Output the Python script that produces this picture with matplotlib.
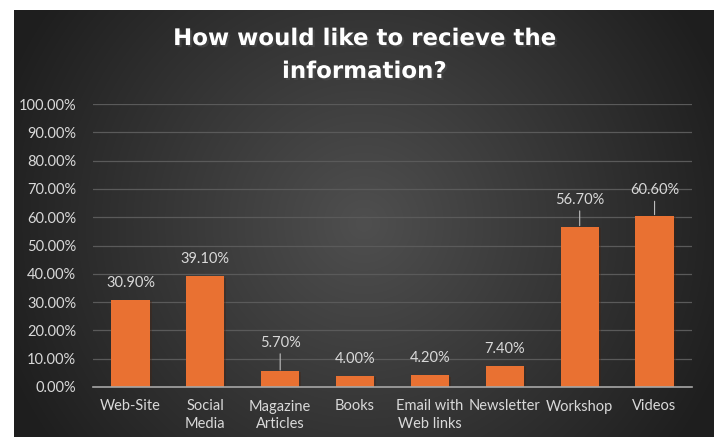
import numpy as np
import matplotlib.pyplot as plt
import matplotlib.patheffects as pe

categories = ["Web-Site", "Social\nMedia", "Magazine\nArticles", "Books",
              "Email with\nWeb links", "Newsletter", "Workshop", "Videos"]
values = [30.9, 39.1, 5.7, 4.0, 4.2, 7.4, 56.7, 60.6]
value_labels = ["30.90%", "39.10%", "5.70%", "4.00%", "4.20%", "7.40%", "56.70%", "60.60%"]
yticks = [0, 10, 20, 30, 40, 50, 60, 70, 80, 90, 100]

plt.rcParams['font.family'] = ['Lato', 'DejaVu Sans']

W, H = 714, 437
fig = plt.figure(figsize=(W / 100, H / 100), dpi=100)
fig.patch.set_facecolor('white')

# dark radial gradient panel
bg = fig.add_axes([14 / W, 0, 1 - 14 / W, 1 - 10 / H])
nx, ny = 700, 427
xx, yy = np.meshgrid(np.linspace(0, 1, nx), np.linspace(0, 1, ny))
r = np.sqrt(((xx - 0.5) * 1.0) ** 2 + ((yy - 0.5) * 0.62) ** 2) / 0.55
r = np.clip(r, 0, 1)
c = 0.31 - (0.31 - 0.12) * r
img = np.dstack([c, c, c])
bg.imshow(img, aspect='auto', extent=[0, 1, 0, 1])
bg.axis('off')

# plot area
ax = fig.add_axes([93 / W, 1 - 387 / H, (692 - 93) / W, (387 - 104) / H])
ax.patch.set_alpha(0)
x = np.arange(len(categories))
ax.bar(x, values, width=0.51, color='#E97132', zorder=3,
       path_effects=[pe.SimplePatchShadow(offset=(1.5, -1), alpha=0.35), pe.Normal()])
ax.set_xlim(-0.5, len(categories) - 0.5)
ax.set_ylim(0, 100)
ax.set_yticks(yticks)
ax.set_yticklabels([f"{t:.2f}%" for t in yticks])
ax.set_xticks(x)
ax.set_xticklabels(categories, linespacing=1.35)
ax.tick_params(axis='both', length=0, colors='#d9d9d9', labelsize=10.5)
ax.tick_params(axis='y', pad=12)
ax.tick_params(axis='x', pad=9)
ax.grid(axis='y', color='#5a5a5a', linewidth=0.9, zorder=0)
for s in ['top', 'right', 'left']:
    ax.spines[s].set_visible(False)
ax.spines['bottom'].set_color('#a6a6a6')
ax.spines['bottom'].set_linewidth(1.2)
ax.spines['bottom'].set_zorder(4)

# data labels (some with leader lines)
leader = {2: 7.5, 6: 7.0, 7: 6.5}
for i, (v, lab) in enumerate(zip(values, value_labels)):
    if i in leader:
        ax.annotate(lab, xy=(i, v + 0.3), xytext=(i, v + leader[i]),
                    ha='center', va='bottom', color='#d9d9d9', fontsize=10.5,
                    arrowprops=dict(arrowstyle='-', color='#bfbfbf', lw=0.8,
                                    shrinkA=1, shrinkB=0))
    else:
        ax.text(i, v + 3.5, lab, ha='center', va='bottom', color='#d9d9d9', fontsize=10.5)

fig.text(0.5 + 7 / W, 1 - 55 / H, "How would like to recieve the\ninformation?",
         ha='center', va='center', color='white', fontsize=16.5, fontweight='bold',
         family=['DejaVu Sans'], linespacing=1.55,
         path_effects=[pe.withSimplePatchShadow(offset=(1.5, -1.5), alpha=0.6)])

fig.savefig('out.png', dpi=100)
